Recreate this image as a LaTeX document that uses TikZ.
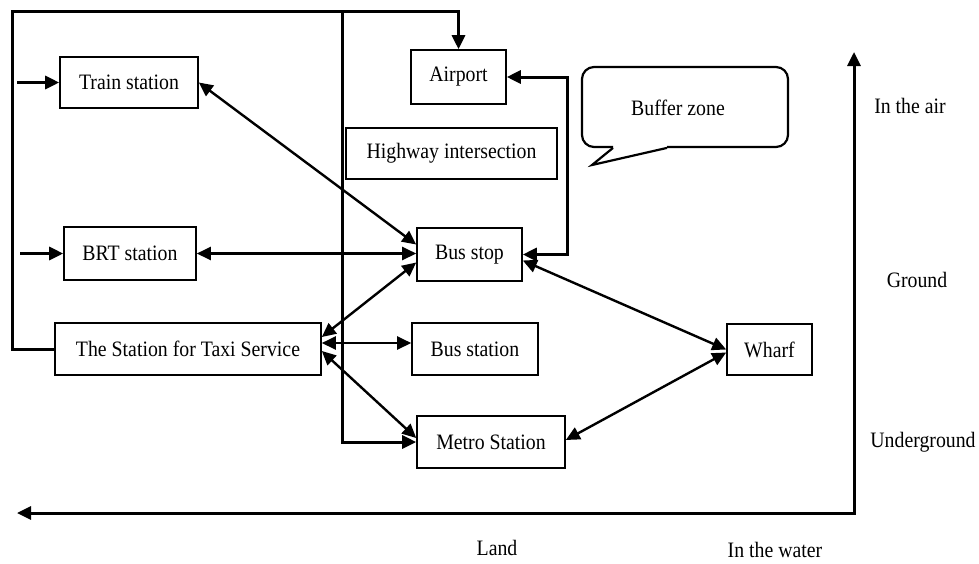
\documentclass[tikz,border=0pt]{standalone}
\usepackage{fontspec}
\setmainfont{Liberation Serif}[FakeStretch=0.9]
\usetikzlibrary{arrows.meta}
\begin{document}
\begin{tikzpicture}[x=1pt,y=-1pt,
  box/.style={draw,line width=1.6pt,inner sep=0pt,font=\fontsize{22}{24}\selectfont},
  lbl/.style={inner sep=0pt,font=\fontsize{22}{24}\selectfont},
  frame/.style={line width=3pt},
  conn/.style={line width=2.4pt},
  tip/.tip={Triangle[length=14pt,width=13pt]},
  both/.style={tip-tip}]
\useasboundingbox (0,0) rectangle (979,563);
% boxes
\node[box,minimum width=138pt,minimum height=51pt] (train) at (129,82.5) {Train station};
\node[box,minimum width=95pt,minimum height=54pt] (airport) at (458.5,77) {Airport};
\node[box,minimum width=211pt,minimum height=51pt] (highway) at (451.5,153.5) {Highway intersection};
\node[box,minimum width=132pt,minimum height=53pt] (brt) at (130,253.5) {BRT station};
\node[box,minimum width=105pt,minimum height=53pt] (busstop) at (469.5,254.5) {Bus stop};
\node[box,minimum width=266pt,minimum height=52pt] (taxi) at (188,349) {The Station for Taxi Service};
\node[box,minimum width=126pt,minimum height=52pt] (busstation) at (475,349) {Bus station};
\node[box,minimum width=148pt,minimum height=52pt] (metro) at (491,442) {Metro Station};
\node[box,minimum width=85pt,minimum height=51pt] (wharf) at (769.5,349.5) {Wharf};
% buffer zone callout
\draw[line width=2.2pt,rounded corners=12pt] (613,147) -- (582,147) -- (582,67) -- (788,67) -- (788,147) -- (667,147);
\draw[line width=2.2pt,line join=miter] (667,147.9) -- (592,165) -- (613,147.9);
\node[lbl] (buffer) at (678,108) {Buffer zone};
% labels
\node[lbl] (air) at (910,106) {In the air};
\node[lbl] (ground) at (917,280) {Ground};
\node[lbl] (under) at (923,442) {Underground};
\node[lbl] (land) at (497,548) {Land};
\node[lbl] (water) at (775,550) {In the water};
% coordinates
\coordinate (ftl) at (12,11);
\coordinate (fm) at (342,11);
\coordinate (tin) at (17,82.5);
\coordinate (bin) at (20,253.5);
\coordinate (ar) at (567,150);
\coordinate (axl) at (17,513);
\coordinate (axc) at (854,513);
\coordinate (axt) at (854,52);
% frame lines
\draw[frame,-tip] (taxi.west) -| (ftl) -| (airport.north);
\draw[frame,-tip] (fm) |- (metro.west);
\draw[frame,-tip] (tin) -- (train.west);
\draw[frame,-tip] (bin) -- (brt.west);
\draw[frame,both] (airport.east) -| (ar) |- (busstop.east);
% connectors
\draw[conn,both] (train.east) -- ([yshift=10pt]busstop.west);
\draw[conn,both] (brt.east) -- (brt.east -| busstop.west);
\draw[conn,both] ([yshift=-8pt]busstop.west) -- ([yshift=12pt]taxi.east);
\draw[conn,both] ([yshift=6pt]taxi.east) -- ([yshift=6pt]taxi.east -| busstation.west);
\draw[conn,both] ([yshift=-2pt]taxi.east) -- ([yshift=4pt]metro.west);
\draw[conn,both] ([yshift=-6pt]busstop.east) -- (wharf.west);
\draw[conn,both] ([yshift=-3pt]wharf.west) -- ([yshift=2pt]metro.east);
% axis
\draw[frame,both] (axl) -- (axc) -- (axt);
\end{tikzpicture}
\end{document}
